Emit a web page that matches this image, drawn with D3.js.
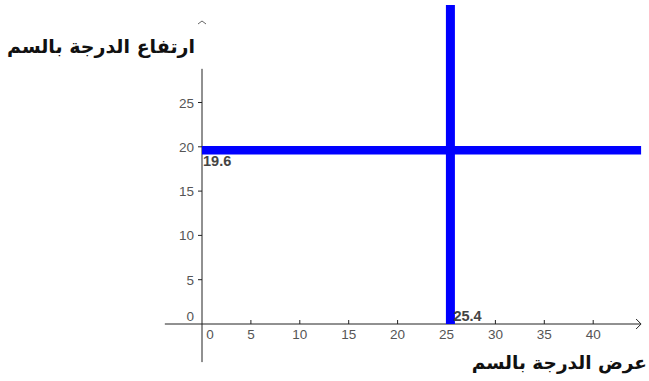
<!DOCTYPE html>
<html>
<head>
<meta charset="utf-8">
<script src="https://cdn.jsdelivr.net/npm/d3@7/dist/d3.min.js"></script>
<style>
  html, body { margin: 0; padding: 0; background: #fff; }
  svg { display: block; }
</style>
</head>
<body>
<svg id="chart" width="649" height="381"></svg>
<script>
// Tick values on both axes
const xTicks = [0, 5, 10, 15, 20, 25, 30, 35, 40];
const yTicks = [0, 5, 10, 15, 20, 25];
// Width (vertical line) and height (horizontal line) in cm
const widthValue = 25.4;
const heightValue = 19.6;
// Visible extent of the coordinate plane in data units
const xExtent = [-3.8, 45.0];
const yExtent = [-4.3, 36.0];
const xAxisTitle = "عرض الدرجة بالسم";
const yAxisTitle = "ارتفاع الدرجة بالسم";

const svg = d3.select("#chart");
const x = d3.scaleLinear().domain([0, 40]).range([202, 593.2]);
const y = d3.scaleLinear().domain([0, 25]).range([324, 102.5]);

const axisColor = "#222";
const labelColor = "#555";
const font = "'Liberation Sans', Arial, sans-serif";
const titleFont = "'DejaVu Sans', sans-serif";

// x axis line with arrow head
svg.append("line")
  .attr("x1", x(xExtent[0])).attr("x2", x(xExtent[1]) - 2)
  .attr("y1", y(0)).attr("y2", y(0))
  .attr("stroke", axisColor).attr("stroke-width", 1);
svg.append("path")
  .attr("d", `M${x(xExtent[1]) - 6},${y(0) - 5} L${x(xExtent[1]) - 1},${y(0)} L${x(xExtent[1]) - 6},${y(0) + 5}`)
  .attr("fill", "none").attr("stroke", axisColor).attr("stroke-width", 1);

// y axis line (the upper part stays clear) and its arrow head
svg.append("line")
  .attr("x1", x(0)).attr("x2", x(0))
  .attr("y1", y(yExtent[0])).attr("y2", y(28.8))
  .attr("stroke", axisColor).attr("stroke-width", 1);
svg.append("path")
  .attr("d", `M${x(0) - 4},${y(34.2) + 3} L${x(0)},${y(34.2)} L${x(0) + 4},${y(34.2) + 3}`)
  .attr("fill", "none").attr("stroke", "#666").attr("stroke-width", 1);

// x ticks and labels
const xt = svg.append("g");
xt.selectAll("line").data(xTicks.filter(d => d !== 0)).join("line")
  .attr("x1", d => x(d)).attr("x2", d => x(d))
  .attr("y1", y(0) - 4).attr("y2", y(0))
  .attr("stroke", axisColor);
xt.selectAll("text").data(xTicks).join("text")
  .attr("x", d => d === 0 ? x(d) + 8 : x(d))
  .attr("y", y(0) + 15)
  .attr("text-anchor", "middle")
  .attr("font-family", font).attr("font-size", 13.5)
  .attr("fill", labelColor)
  .text(d => d);

// y ticks and labels
const yt = svg.append("g");
yt.selectAll("line").data(yTicks.filter(d => d !== 0)).join("line")
  .attr("x1", x(0) - 4).attr("x2", x(0))
  .attr("y1", d => y(d)).attr("y2", d => y(d))
  .attr("stroke", axisColor);
yt.selectAll("text").data(yTicks).join("text")
  .attr("x", x(0) - 8)
  .attr("y", d => d === 0 ? y(d) - 3 : y(d) + 5)
  .attr("text-anchor", "end")
  .attr("font-family", font).attr("font-size", 13.5)
  .attr("fill", labelColor)
  .text(d => d);

// horizontal line y = heightValue
svg.append("line")
  .attr("x1", x(0)).attr("x2", x(xExtent[1]) - 1)
  .attr("y1", y(heightValue)).attr("y2", y(heightValue))
  .attr("stroke", "#0000ff").attr("stroke-width", 8.5);

// vertical line x = widthValue
svg.append("line")
  .attr("x1", x(widthValue)).attr("x2", x(widthValue))
  .attr("y1", y(0)).attr("y2", y(yExtent[1]))
  .attr("stroke", "#0000ff").attr("stroke-width", 9);

// value labels
svg.append("text")
  .attr("x", x(0) + 1).attr("y", y(heightValue) + 15.5)
  .attr("font-family", font).attr("font-size", 14.5).attr("font-weight", "bold")
  .attr("fill", "#444")
  .text(heightValue);
svg.append("text")
  .attr("x", x(widthValue) + 3).attr("y", y(0) - 3)
  .attr("font-family", font).attr("font-size", 14.5).attr("font-weight", "bold")
  .attr("fill", "#444")
  .text(widthValue);

// axis titles
svg.append("text")
  .attr("x", 195).attr("y", 53)
  .attr("text-anchor", "end")
  .attr("font-family", titleFont).attr("font-size", 19).attr("font-weight", "bold")
  .attr("fill", "#111")
  .text(yAxisTitle);
svg.append("text")
  .attr("x", 647).attr("y", 369)
  .attr("text-anchor", "end")
  .attr("font-family", titleFont).attr("font-size", 18.5).attr("font-weight", "bold")
  .attr("fill", "#111")
  .text(xAxisTitle);
</script>
</body>
</html>
